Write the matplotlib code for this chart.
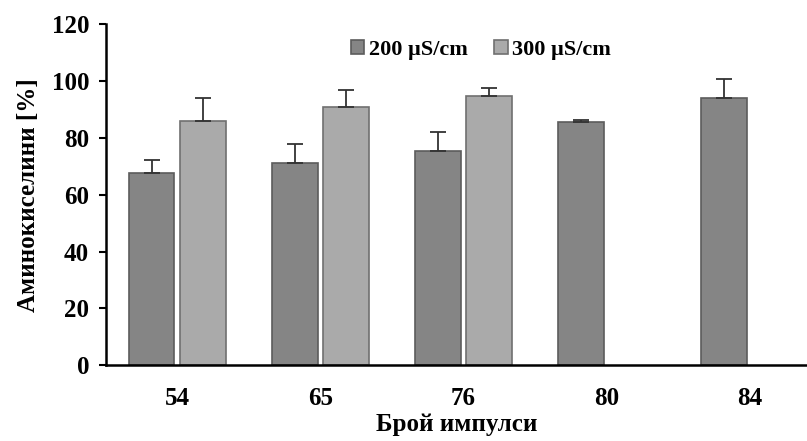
import numpy as np
import matplotlib.pyplot as plt
import matplotlib

matplotlib.rc('font', family='Liberation Serif', weight='bold')

categories = ['54', '65', '76', '80', '84']
s200 = [67.6, 71.0, 75.4, 85.5, 94.2]
s200_err = [4.5, 6.9, 6.6, 0.9, 6.5]
s300 = [85.9, 90.7, 94.7]
s300_err = [8.2, 6.1, 3.0]

fig = plt.figure(figsize=(8.07, 4.41), dpi=100)
ax = fig.add_axes([0.131, 0.172, 0.869, 0.773])

index = np.arange(len(categories))
bar_width = 0.32
off = 0.18

zeros = np.zeros(len(categories))
ax.bar(index - off, s200, bar_width, color='#858585', edgecolor='#5c5c5c',
       linewidth=1.2, label='200 µS/cm', zorder=2)
ax.errorbar(index - off, s200, yerr=[zeros, s200_err], fmt='none',
            ecolor='#333333', elinewidth=1.3, capsize=6, capthick=1.3, zorder=3)

idx3 = index[:len(s300)]
ax.bar(idx3 + off, s300, bar_width, color='#aaaaaa', edgecolor='#707070',
       linewidth=1.2, label='300 µS/cm', zorder=2)
ax.errorbar(idx3 + off, s300, yerr=[zeros[:len(s300)], s300_err], fmt='none',
            ecolor='#333333', elinewidth=1.3, capsize=6, capthick=1.3, zorder=3)

ax.set_xlim(-0.5, 4.4)
ax.set_ylim(0, 120)
ax.set_yticks(range(0, 121, 20))
ax.set_xticks(index)
ax.set_xticklabels(categories)
ax.tick_params(axis='x', length=0, pad=16, labelsize=18)
ax.tick_params(axis='y', direction='out', length=5, width=1.5, labelsize=18, pad=7)

for s in ['top', 'right']:
    ax.spines[s].set_visible(False)
for s in ['left', 'bottom']:
    ax.spines[s].set_linewidth(1.8)

ax.set_ylabel('Аминокиселини [%]', fontsize=18, fontweight='bold', labelpad=8)
ax.set_xlabel('Брой импулси', fontsize=18, fontweight='bold', labelpad=2)

ax.legend(loc='center', bbox_to_anchor=(0.535, 0.924), ncol=2, frameon=False,
          fontsize=16, handlelength=0.6, handleheight=0.6, handletextpad=0.2,
          columnspacing=1.2)

plt.savefig('out.png', dpi=100)
